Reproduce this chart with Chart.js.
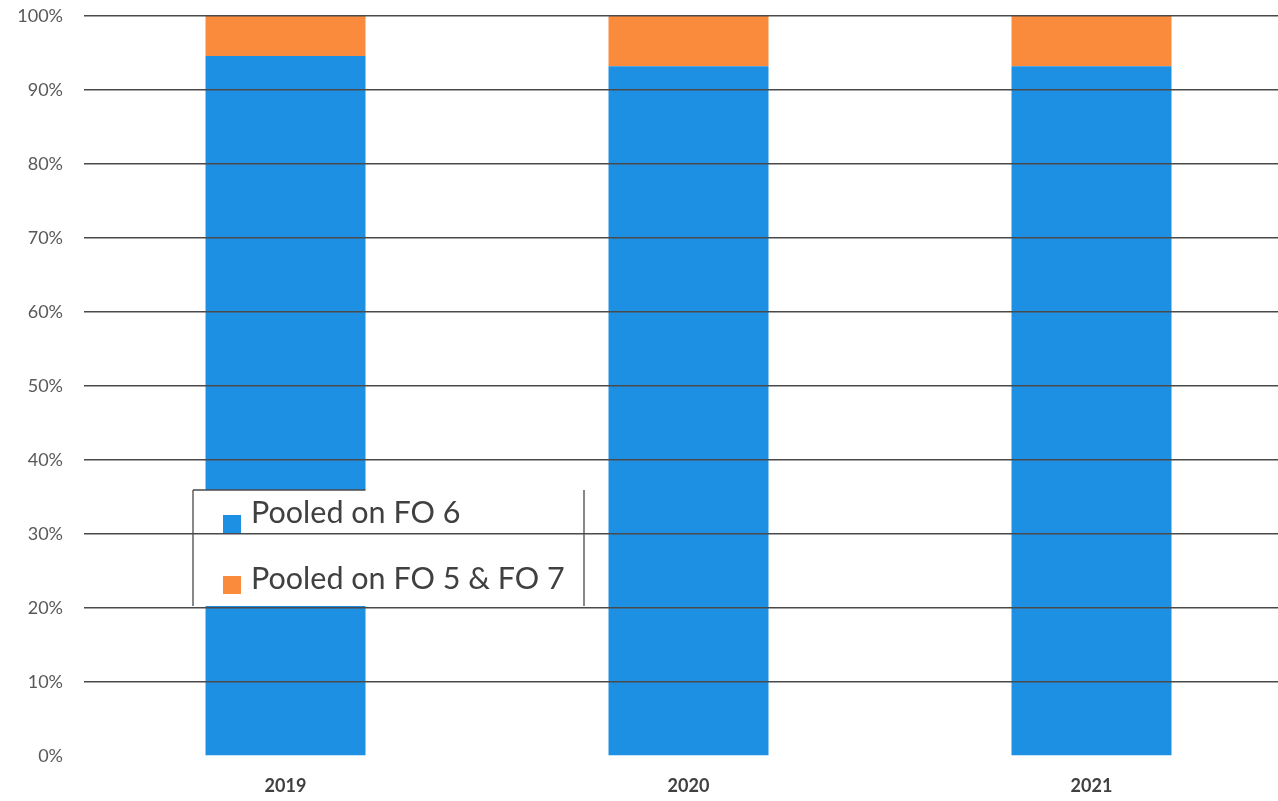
<!DOCTYPE html>
<html>
<head>
<meta charset="utf-8">
<script src="https://cdn.jsdelivr.net/npm/chart.js@4.4.1/dist/chart.umd.min.js"></script>
<style>
  html, body { margin: 0; padding: 0; background: #fff; overflow: hidden; width: 1278px; height: 801px; }
  #wrap { position: absolute; left: 0; top: 0; width: 1300px; height: 801px; }
</style>
</head>
<body>
<div id="wrap"><canvas id="c" width="1300" height="801"></canvas></div>
<script>
const categories = ['2019', '2020', '2021'];
const seriesNames = ['Pooled on FO 6', 'Pooled on FO 5 & FO 7'];
const pooledFO6 = [94.6, 93.2, 93.2];
const pooledFO5FO7 = [5.4, 6.8, 6.8];
const yTicks = [0, 10, 20, 30, 40, 50, 60, 70, 80, 90, 100];

const BLUE = '#1E90E4';
const ORANGE = '#FA8B3C';

const legendBox = {
  id: 'legendBox',
  afterDatasetsDraw(chart) {
    const ctx = chart.ctx;
    const x0 = 193, y0 = 490, w = 391, h = 116;
    ctx.save();
    ctx.fillStyle = '#ffffff';
    ctx.fillRect(x0, y0, w, h);
    ctx.strokeStyle = '#4a4a4a';
    ctx.lineWidth = 1.3;
    ctx.beginPath();
    ctx.moveTo(x0, y0); ctx.lineTo(x0, y0 + h);
    ctx.moveTo(x0 + w, y0); ctx.lineTo(x0 + w, y0 + h);
    const bar = chart.getDatasetMeta(0).data[0];
    const barRight = bar.x + bar.width / 2;
    ctx.moveTo(x0, y0); ctx.lineTo(barRight, y0);
    ctx.stroke();
    const ds = chart.data.datasets;
    const rows = [
      { markY: 515, baseY: 523 },
      { markY: 576, baseY: 589 }
    ];
    ctx.font = '30.5px Lato';
    ctx.textBaseline = 'alphabetic';
    ctx.textAlign = 'left';
    rows.forEach((r, i) => {
      ctx.fillStyle = ds[i].backgroundColor;
      ctx.fillRect(223, r.markY, 18, 18);
      ctx.fillStyle = '#404040';
      ctx.fillText(ds[i].label, 251, r.baseY);
    });
    ctx.restore();
  }
};

new Chart(document.getElementById('c'), {
  type: 'bar',
  data: {
    labels: categories,
    datasets: [
      { label: seriesNames[0], data: pooledFO6, backgroundColor: BLUE, borderWidth: 0 },
      { label: seriesNames[1], data: pooledFO5FO7, backgroundColor: ORANGE, borderWidth: 0 }
    ]
  },
  options: {
    responsive: false,
    animation: false,
    devicePixelRatio: 1,
    layout: { padding: { left: 0, right: 7, top: 16, bottom: 0 } },
    datasets: { bar: { barPercentage: 0.397, categoryPercentage: 1 } },
    plugins: { legend: { display: false }, tooltip: { enabled: false } },
    scales: {
      x: {
        stacked: true,
        afterFit(scale) { scale.height = 45; },
        grid: { display: false, drawTicks: false },
        border: { display: false },
        ticks: { padding: 19, color: '#404040', font: { family: 'Lato', size: 18, weight: 'bold' } }
      },
      y: {
        stacked: true,
        min: 0, max: 100,
        afterFit(scale) { scale.width = 84; scale.paddingTop = 0; scale.paddingBottom = 0; },
        afterBuildTicks(scale) { scale.ticks = yTicks.map(v => ({ value: v })); },
        grid: {
          z: 1,
          drawTicks: false,
          lineWidth: 1.6,
          color: ctx => (ctx.tick && ctx.tick.value === 0) ? 'rgba(0,0,0,0)' : '#4a4a4a'
        },
        border: { display: false },
        ticks: {
          padding: 21,
          color: '#595959',
          font: { family: 'Lato', size: 18 },
          callback: v => v + '%'
        }
      }
    }
  },
  plugins: [legendBox]
});
</script>
</body>
</html>
